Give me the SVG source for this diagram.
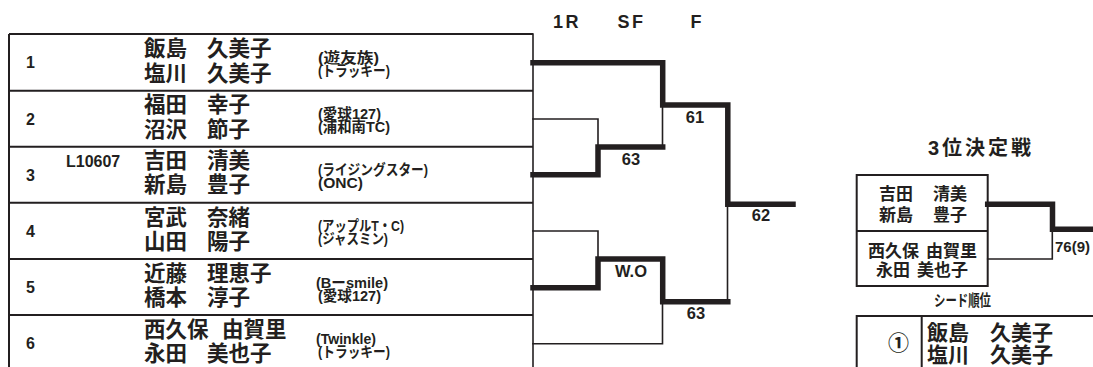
<svg xmlns="http://www.w3.org/2000/svg" width="1093" height="367" viewBox="0 0 1093 367">
<style>
.bg{fill:#ffffff}
.tl{stroke:#231f20;stroke-width:2;fill:none}
.thin{stroke:#231f20;stroke-width:1.6;fill:none;stroke-linecap:square}
.thick{stroke:#231f20;stroke-width:5.5;fill:none;stroke-linecap:square;stroke-linejoin:miter}
.num{font-family:"Liberation Sans",Arial,sans-serif;font-weight:700;font-size:16px;fill:#231f20}
.nm{font-family:"Noto Sans CJK JP","Noto Sans CJK SC",sans-serif;font-weight:700;font-size:21.5px;fill:#231f20}
.af{font-family:"Liberation Sans","Noto Sans CJK JP",sans-serif;font-weight:700;font-size:14.5px;fill:#231f20}
.sc{font-family:"Liberation Sans",Arial,sans-serif;font-weight:700;font-size:16.5px;fill:#231f20;text-anchor:middle}
.hd{font-family:"Liberation Sans",Arial,sans-serif;font-weight:700;font-size:18px;fill:#231f20;letter-spacing:2.5px}
.ttl{font-family:"Liberation Sans","Noto Sans CJK JP",sans-serif;font-weight:700;font-size:20px;fill:#231f20;letter-spacing:3px}
.bx{font-family:"Noto Sans CJK JP","Noto Sans CJK SC",sans-serif;font-weight:700;font-size:17px;fill:#231f20}
</style>
<rect class="bg" x="0" y="0" width="1093" height="367"/>

<g id="headers">
<text class="hd" x="553" y="28">1R</text>
<text class="hd" x="617.5" y="28">SF</text>
<text class="hd" x="690.5" y="28">F</text>
</g>

<g id="table-frame">
<path class="tl" d="M9,34 H533 M9,90.7 H533 M9,146.7 H533 M9,202.7 H533 M9,259 H533 M9,315 H533 M9,34 V367"/>
</g>

<g id="entry-1">
<text class="num" x="26" y="68">1</text>
<text class="nm" x="144" y="56">飯島</text><text class="nm" x="207" y="56">久美子</text>
<text class="nm" x="144" y="80.5">塩川</text><text class="nm" x="207" y="80.5">久美子</text>
<text class="af" x="318" y="62.5" textLength="61" lengthAdjust="spacingAndGlyphs">(遊友族)</text>
<text class="af" x="318" y="75.5" textLength="72" lengthAdjust="spacingAndGlyphs">(トラッキー)</text>
</g>
<g id="entry-2">
<text class="num" x="26" y="124.5">2</text>
<text class="nm" x="144" y="112">福田</text><text class="nm" x="207" y="112">幸子</text>
<text class="nm" x="144" y="136.5">沼沢</text><text class="nm" x="207" y="136.5">節子</text>
<text class="af" x="318" y="119.2" textLength="63" lengthAdjust="spacingAndGlyphs">(愛球127)</text>
<text class="af" x="318" y="132.2" textLength="72" lengthAdjust="spacingAndGlyphs">(浦和南TC)</text>
</g>
<g id="entry-3">
<text class="num" x="26" y="180.5">3</text>
<text class="num" x="66" y="167">L10607</text>
<text class="nm" x="144" y="168">吉田</text><text class="nm" x="207" y="168">清美</text>
<text class="nm" x="144" y="192">新島</text><text class="nm" x="207" y="192">豊子</text>
<text class="af" x="318" y="175.2" textLength="110" lengthAdjust="spacingAndGlyphs">(ライジングスター)</text>
<text class="af" x="318" y="188.2" textLength="45" lengthAdjust="spacingAndGlyphs">(ONC)</text>
</g>
<g id="entry-4">
<text class="num" x="26" y="236.5">4</text>
<text class="nm" x="144" y="224.5">宮武</text><text class="nm" x="207" y="224.5">奈緒</text>
<text class="nm" x="144" y="249">山田</text><text class="nm" x="207" y="249">陽子</text>
<text class="af" x="318" y="231.2" textLength="86" lengthAdjust="spacingAndGlyphs">(アップルT・C)</text>
<text class="af" x="318" y="244.2" textLength="70" lengthAdjust="spacingAndGlyphs">(ジャスミン)</text>
</g>
<g id="entry-5">
<text class="num" x="26" y="292.5">5</text>
<text class="nm" x="144" y="280.5">近藤</text><text class="nm" x="207" y="280.5">理恵子</text>
<text class="nm" x="144" y="305">橋本</text><text class="nm" x="207" y="305">淳子</text>
<text class="af" x="316" y="287.5" textLength="72" lengthAdjust="spacingAndGlyphs">(Bーsmile)</text>
<text class="af" x="318" y="300.5" textLength="63" lengthAdjust="spacingAndGlyphs">(愛球127)</text>
</g>
<g id="entry-6">
<text class="num" x="26" y="348.5">6</text>
<text class="nm" x="144" y="336.5">西久保</text><text class="nm" x="222" y="336.5">由賀里</text>
<text class="nm" x="144" y="361">永田</text><text class="nm" x="207" y="361">美也子</text>
<text class="af" x="316" y="343.5" textLength="60" lengthAdjust="spacingAndGlyphs">(Twinkle)</text>
<text class="af" x="318" y="356.5" textLength="72" lengthAdjust="spacingAndGlyphs">(トラッキー)</text>
</g>

<g id="connectors">
<line class="thin" x1="533" y1="34" x2="533" y2="367"/>
<path class="thin" d="M533,119 H598 V147"/>
<path class="thin" d="M533,231 H598 V259"/>
<path class="thin" d="M662.5,105 V147"/>
<path class="thin" d="M533,343.7 H662.5 V301.7"/>
<path class="thin" d="M727.5,204 V301.7"/>
<path class="thick" d="M533,62.7 H662.7 V105 H727.8 V204.2 H793"/>
<path class="thick" d="M533,174.7 H598 V147 H662.7"/>
<path class="thick" d="M533,287.7 H598 V259 H662.7 V301.7 H727.8"/>
<path class="thin" d="M987.7,259 H1052.3 V229"/>
<path class="thick" d="M987.7,204.2 H1052.5 V229.2 H1093"/>
</g>

<g id="scores">
<text class="sc" x="695" y="122.7">61</text>
<text class="sc" x="631" y="165">63</text>
<text class="sc" x="631" y="276.7">W.O</text>
<text class="sc" x="696" y="319">63</text>
<text class="sc" x="761" y="221">62</text>
<text class="sc" x="1055" y="251.5" style="font-size:15px;text-anchor:start">76(9)</text>
</g>

<g id="third-place">
<text class="ttl" x="928" y="155">3位決定戦</text>
<rect class="tl" x="856.7" y="175" width="131" height="111"/>
<line class="tl" x1="856.7" y1="231" x2="987.7" y2="231"/>
<text class="bx" x="879" y="200">吉田</text><text class="bx" x="933" y="200">清美</text>
<text class="bx" x="879" y="220.5">新島</text><text class="bx" x="933" y="220.5">豊子</text>
<text class="bx" x="868" y="256.5">西久保</text><text class="bx" x="926" y="256.5">由賀里</text>
<text class="bx" x="876" y="276">永田</text><text class="bx" x="917" y="276">美也子</text>
</g>

<g id="seed">
<text class="ttl" x="934" y="306" style="font-size:15.5px;letter-spacing:0" textLength="57" lengthAdjust="spacingAndGlyphs">シード順位</text>
<path class="tl" d="M856.7,367 V316 H1093 M921.7,316 V367"/>
<text class="nm" x="898.5" y="350" style="text-anchor:middle;font-size:21px">①</text>
<text class="nm" x="927" y="340" style="font-size:21px">飯島</text><text class="nm" x="990" y="340" style="font-size:21px">久美子</text>
<text class="nm" x="927" y="361.5" style="font-size:21px">塩川</text><text class="nm" x="990" y="361.5" style="font-size:21px">久美子</text>
</g>
</svg>
